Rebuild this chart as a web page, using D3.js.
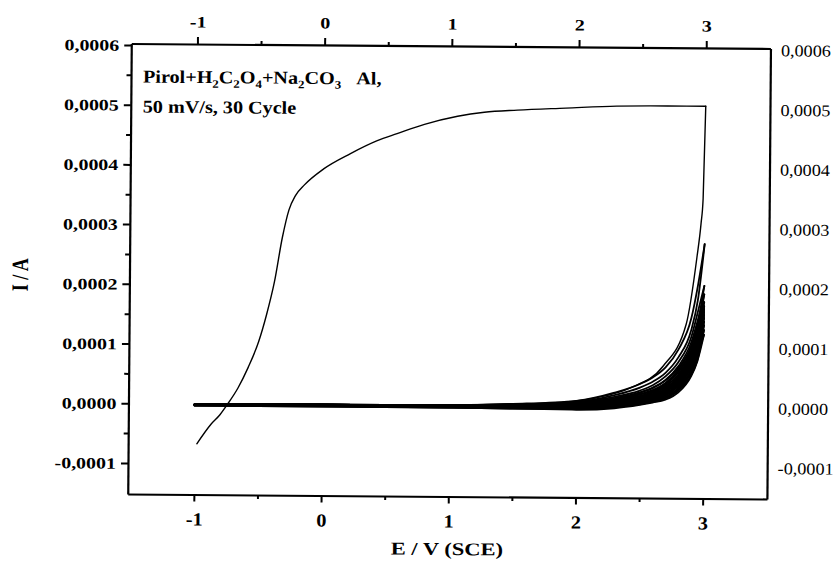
<!DOCTYPE html>
<html><head><meta charset="utf-8">
<script src="https://cdn.jsdelivr.net/npm/d3@7"></script>
<style>
body{margin:0;background:#fff}
svg{display:block;background:#fff}
</style>
</head><body>
<svg id="chart" width="836" height="563"></svg>
<script>
// ---------- DATA (current in µA, potential in V vs SCE) ----------
const xMajorTicks = [-1, 0, 1, 2, 3];
const xMinorTicks = [-0.5, 0.5, 1.5, 2.5];
const yMajorTicks = [-0.0001, 0, 0.0001, 0.0002, 0.0003, 0.0004, 0.0005, 0.0006];
const yMinorTicks = [-0.00005, 0.00005, 0.00015, 0.00025, 0.00035, 0.00045, 0.00055];

// first cycle, anodic scan
const cycle1FwdE = [-0.98, -0.87, -0.80, -0.74, -0.66, -0.58, -0.50, -0.44, -0.38, -0.32, -0.27, -0.22, -0.15, 0.0, 0.21, 0.42, 0.575, 0.79, 1.05, 1.26, 1.52, 1.9, 2.3, 2.7, 3.0];
const cycle1FwdI = [-67, -34, -18, 0, 27, 62, 105, 150, 205, 280, 326, 350, 368, 395, 421, 443, 455, 471, 485, 492, 496, 500, 504, 505, 505];
// first cycle, return scan (listed with increasing E)
const cycle1RetE = [-1.0, 0.0, 1.0, 1.8, 2.15, 2.42, 2.68, 2.86, 2.94, 2.97, 2.985, 3.0];
const cycle1RetI = [-2, 0, 1, 6, 15, 32, 69, 140, 252, 308, 350, 505];

// later cycles, sampled at these potentials
const cycleE = [-1, 0, 1, 1.5, 2, 2.3, 2.5, 2.6, 2.7, 2.8, 2.9, 2.95, 3];
const cyclesFwdI = [
  [-2,-1, 0, 3, 8,20,33,43,58,84,130,180,274],
  [-2,-1, 0, 2, 6,14,24,32,45,66,103,140,204],
  [-2,-1, 0, 2, 5,12,21,28,40,60, 95,128,190],
  [-2,-1, 0, 1, 4,10,18,25,36,55, 88,118,177],
  [-2,-1, 0, 1, 3, 8,16,22,33,51, 83,112,170],
  [-2,-1,-1, 0, 2, 7,14,20,30,48, 79,107,165],
  [-2,-2,-1, 0, 1, 6,12,18,27,45, 75,102,160],
  [-2,-2,-1,-1, 0, 5,10,16,25,42, 71, 97,155],
  [-2,-2,-2,-2,-1, 3, 9,14,22,38, 67, 93,150],
  [-2,-2,-2,-3,-2, 2, 7,12,20,35, 62, 88,144],
  [-3,-2,-3,-3,-3, 1, 6,10,17,31, 58, 83,138],
  [-3,-3,-3,-4,-4, 0, 5, 9,15,28, 54, 80,130],
  [-3,-3,-3,-4,-5,-2, 4, 8,13,25, 52, 78,122]
];
const cyclesRetI = [
  [-1,0,1,4,10,24,39,50,67,97,150,205,274],
  [-1,0,1,3, 8,17,28,37,52,76,118,160,204],
  [-1,0,1,3, 7,15,25,33,46,69,109,146,190],
  [-1,0,1,2, 6,13,22,29,41,63,101,135,177],
  [-1,0,0,2, 5,11,19,26,38,59, 95,128,170],
  [-1,0,0,2, 4,10,17,24,35,55, 91,122,165],
  [-1,0,0,1, 3, 9,15,21,31,52, 86,117,160],
  [-1,0,0,1, 2, 8,13,19,29,48, 82,111,155],
  [-1,0,0,1, 1, 6,12,17,26,44, 77,106,150],
  [-1,0,0,0, 0, 5,10,15,23,40, 71,101,144],
  [-1,0,0,0,-1, 4, 8,13,20,36, 67, 95,138],
  [-1,0,0,0,-2, 2, 7,11,18,32, 62, 92,130],
  [-1,0,0,0,-3, 0, 6,10,16,29, 60, 90,122]
];

const annotationLine2 = "50 mV/s, 30 Cycle";
const xTitle = "E / V (SCE)";
const yTitle = "I / A";

// ---------- CHART ----------
const serif = "'Liberation Serif','Times New Roman',serif";
const svg = d3.select("#chart");
const root = svg.append("g").attr("transform", "rotate(0.45,449,271)");

const x = d3.scaleLinear().domain([-1.52, 3.505]).range([129.5, 768.7]);
const y = d3.scaleLinear().domain([-0.000152, 0.0006025]).range([496.5, 46]);
const [L, R] = x.range();
const [B, T] = y.range();

const line = d3.line()
  .x(d => x(d[0]))
  .y(d => y(d[1] * 1e-6))
  .curve(d3.curveMonotoneX);

const curves = root.append("g").attr("fill", "none").attr("stroke", "#000")
  .attr("stroke-linejoin", "round").attr("stroke-linecap", "round");

cyclesFwdI.forEach(arr => {
  curves.append("path").attr("d", line(cycleE.map((e, i) => [e, arr[i]]))).attr("stroke-width", 1.8);
});
cyclesRetI.forEach(arr => {
  curves.append("path").attr("d", line(cycleE.map((e, i) => [e, arr[i]]))).attr("stroke-width", 1.8);
});
curves.append("path").attr("d", line(cycle1FwdE.map((e, i) => [e, cycle1FwdI[i]]))).attr("stroke-width", 1.4);
curves.append("path").attr("d", line(cycle1RetE.map((e, i) => [e, cycle1RetI[i]]))).attr("stroke-width", 1.4);

// ---------- AXES ----------
const fmt = v => d3.format(".4f")(v).replace(".", ",").replace("\u2212", "-");
const fmtInt = v => d3.format("d")(v).replace("\u2212", "-");

function styleAxis(sel) {
  sel.select(".domain").attr("stroke-width", 2.2);
  sel.selectAll(".tick line").attr("stroke-width", 2);
}

// bottom
const gb = root.append("g").attr("transform", `translate(0,${B})`)
  .call(d3.axisBottom(x).tickValues(xMajorTicks).tickSize(7).tickSizeOuter(0).tickFormat(fmtInt));
styleAxis(gb);
gb.selectAll("text").attr("font-family", serif).attr("font-weight", "bold").attr("font-size", 18.5)
  .attr("y", 31).attr("dy", 0).attr("x", 0).attr("transform", "scale(1.1,1)");
root.append("g").attr("transform", `translate(0,${B})`)
  .call(d3.axisBottom(x).tickValues(xMinorTicks).tickSize(4).tickFormat(""))
  .call(s => s.select(".domain").remove())
  .selectAll("line").attr("stroke-width", 2);

// top
const gt = root.append("g").attr("transform", `translate(0,${T})`)
  .call(d3.axisTop(x).tickValues(xMajorTicks).tickSize(7).tickSizeOuter(0).tickFormat(fmtInt));
styleAxis(gt);
gt.selectAll("text").attr("font-family", serif).attr("font-weight", "bold").attr("font-size", 16)
  .attr("y", -16.5).attr("dy", 0).attr("transform", "scale(1.25,1)");
root.append("g").attr("transform", `translate(0,${T})`)
  .call(d3.axisTop(x).tickValues(xMinorTicks).tickSize(3.5).tickFormat(""))
  .call(s => s.select(".domain").remove())
  .selectAll("line").attr("stroke-width", 2);

// left
const sxL = 1.26;
const gl = root.append("g").attr("transform", `translate(${L},0)`)
  .call(d3.axisLeft(y).tickValues(yMajorTicks).tickSize(7).tickSizeOuter(0).tickFormat(fmt));
styleAxis(gl);
gl.selectAll("text").attr("font-family", serif).attr("font-weight", "bold").attr("font-size", 15.8)
  .attr("x", -12 / sxL).attr("dy", "0.34em").attr("transform", `scale(${sxL},1)`);
root.append("g").attr("transform", `translate(${L},0)`)
  .call(d3.axisLeft(y).tickValues(yMinorTicks).tickSize(4.5).tickFormat(""))
  .call(s => s.select(".domain").remove())
  .selectAll("line").attr("stroke-width", 2);

// right (labels only)
const sxR = 1.1;
const gr = root.append("g").attr("transform", `translate(${R},0)`)
  .call(d3.axisRight(y).tickValues(yMajorTicks).tickSize(0).tickSizeOuter(0).tickFormat(fmt));
styleAxis(gr);
gr.selectAll("text").attr("font-family", serif).attr("font-weight", "normal").attr("font-size", 16.5)
  .attr("x", 10.5 / sxR).attr("dy", "0.34em").attr("transform", `scale(${sxR},1)`);

// ---------- TEXT ----------
const sxA = 1.12;
const ann = root.append("text").attr("font-family", serif).attr("font-weight", "bold").attr("font-size", 18)
  .attr("transform", `translate(141.5,85) scale(${sxA},1)`);
const parts = [["Pirol+H",0],["2",1],["C",0],["2",1],["O",0],["4",1],["+Na",0],["2",1],["CO",0],["3",1],["\u00a0\u00a0\u00a0Al,",0]];
let sub = false;
parts.forEach(([t, s]) => {
  const ts = ann.append("tspan").text(t);
  if (s && !sub) { ts.attr("dy", 4.5).attr("font-size", 11.5); sub = true; }
  else if (s) { ts.attr("font-size", 11.5); }
  else if (!s && sub) { ts.attr("dy", -4.5); sub = false; }
});
root.append("text").attr("font-family", serif).attr("font-weight", "bold").attr("font-size", 18)
  .attr("transform", `translate(141.5,115) scale(${sxA},1)`).text(annotationLine2);

root.append("text").attr("font-family", serif).attr("font-weight", "bold").attr("font-size", 18)
  .attr("text-anchor", "middle")
  .attr("transform", `translate(449,555) scale(1.25,1)`).text(xTitle);

root.append("text").attr("font-family", serif).attr("font-weight", "bold").attr("font-size", 18)
  .attr("text-anchor", "middle")
  .attr("transform", `translate(28,278) rotate(-90) scale(1,1.3)`).text(yTitle);
</script>
</body></html>
